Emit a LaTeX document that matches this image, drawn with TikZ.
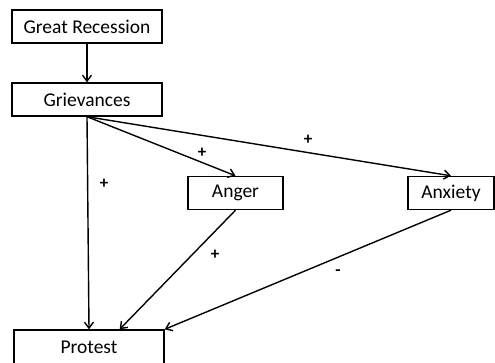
\documentclass[tikz,border=0pt]{standalone}
\usepackage{fontspec}
\setmainfont{Carlito}
\usetikzlibrary{arrows,arrows.meta}

\begin{document}
\begin{tikzpicture}[->,>={Straight Barb[length=6pt,width=9pt]},line width=1.4pt,x=1pt,y=-1pt]
    \tikzstyle{box}=[draw=black, rectangle, inner sep=0pt, minimum height=33pt, text=black, font=\fontsize{19.5}{22}\selectfont]
    \tikzstyle{sign}=[text=black, font=\fontsize{17}{20}\selectfont\bfseries]
    \useasboundingbox (0,0) rectangle (495,362);

    \node[box, minimum width=150pt] (rec)    at (87,26.5)  {Great Recession};
    \node[box, minimum width=150pt] (griev)  at (87,99.5)  {Grievances};
    \node[box, minimum width=95pt]  (anger)  at (235.5,193) {Anger};
    \node[box, minimum width=86pt]  (anx)    at (451,193)  {Anxiety};
    \node[box, minimum width=150pt, minimum height=34pt] (prot) at (89,347) {Protest};

    \node[sign] (s1) at (202,153) {+};
    \node[sign] (s2) at (308,140) {+};
    \node[sign] (s3) at (104,184) {+};
    \node[sign] (s4) at (215,255) {+};
    \node[sign] (s5) at (338,273) {-};
    \path
     (rec)          edge[] (griev)
     (griev.south)  edge[] (prot.north)
     (griev.south)  edge[] (anger.north)
     (griev.south)  edge[] (anx.north)
     (anger.south)  edge[] (prot.30)
     (anx.south)    edge[] (prot.north east)
     ;
\end{tikzpicture}
\end{document}
